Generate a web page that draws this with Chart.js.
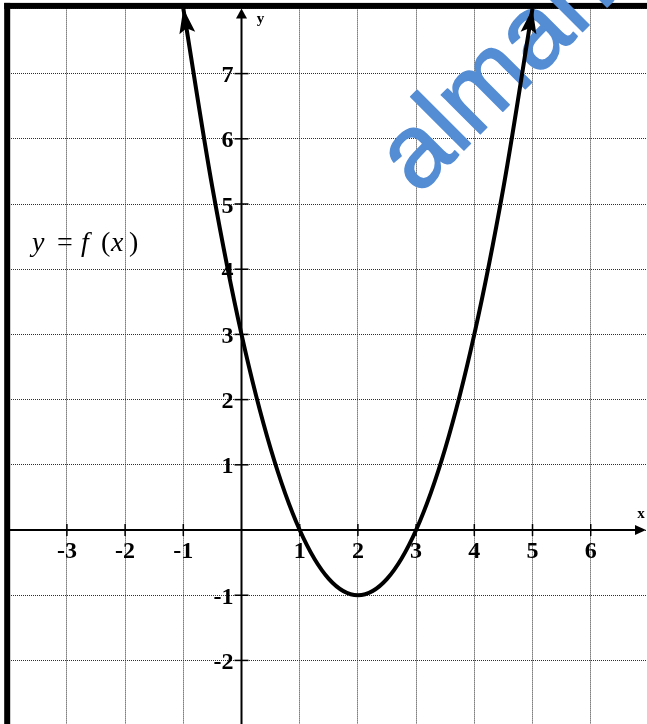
<!DOCTYPE html>
<html>
<head>
<meta charset="utf-8">
<script src="https://cdn.jsdelivr.net/npm/chart.js@4/dist/chart.umd.min.js"></script>
<style>
  html, body { margin: 0; padding: 0; background: #fff; }
  canvas { display: block; }
</style>
</head>
<body>
<canvas id="graph" width="647" height="724"></canvas>
<script>
// Points of the parabola y = f(x), vertex at (2, -1), roots at 1 and 3
const xValues = [-1, -0.5, 0, 0.5, 1, 1.5, 2, 2.5, 3, 3.5, 4, 4.5, 5];
const yValues = [8, 5.25, 3, 1.25, 0, -0.75, -1, -0.75, 0, 1.25, 3, 5.25, 8];

// Numbers written along the axes
const xTickValues = [-3, -2, -1, 1, 2, 3, 4, 5, 6];
const yTickValues = [7, 6, 5, 4, 3, 2, 1, -1, -2];

// Window of the coordinate plane
const xRange = [-4, 6.967];
const yRange = [-2.975, 8];

const curvePoints = xValues.map((x, i) => ({ x: x, y: yValues[i] }));

const serifBold = 'bold 24px "Liberation Serif", "Times New Roman", serif';

function drawArrow(ctx, tipX, tipY, dirX, dirY, len, half, notch) {
  const d = Math.hypot(dirX, dirY) || 1;
  const ux = dirX / d, uy = dirY / d;
  const px = -uy, py = ux;
  const bx = tipX - ux * len, by = tipY - uy * len;
  ctx.beginPath();
  ctx.moveTo(tipX, tipY);
  ctx.lineTo(bx + px * half, by + py * half);
  ctx.lineTo(tipX - ux * len * notch, tipY - uy * len * notch);
  ctx.lineTo(bx - px * half, by - py * half);
  ctx.closePath();
  ctx.fill();
}

const planePlugin = {
  id: 'plane',
  beforeDatasetsDraw(chart) {
    const { ctx, chartArea, scales } = chart;
    const xs = scales.x, ys = scales.y;
    const x0 = xs.getPixelForValue(0);
    const y0 = ys.getPixelForValue(0);
    ctx.save();

    // heavy frame on the left and top
    ctx.fillStyle = '#000';
    ctx.fillRect(chartArea.left - 4.5, chartArea.top - 5.5, chart.width, 6);
    ctx.fillRect(chartArea.left - 4.5, chartArea.top - 5.5, 6, chart.height);

    // axes
    ctx.strokeStyle = '#000';
    ctx.lineWidth = 2;
    ctx.beginPath();
    ctx.moveTo(chartArea.left, y0);
    ctx.lineTo(chart.width - 6, y0);
    ctx.moveTo(x0, chart.height);
    ctx.lineTo(x0, chartArea.top + 6);
    ctx.stroke();
    ctx.fillStyle = '#000';
    drawArrow(ctx, chart.width - 1, y0, 1, 0, 11, 5, 1);
    drawArrow(ctx, x0, chartArea.top, 0, -1, 10, 5.5, 1);

    // tick marks and numbers
    ctx.lineWidth = 1.5;
    ctx.font = serifBold;
    ctx.textBaseline = 'alphabetic';
    ctx.textAlign = 'center';
    xTickValues.forEach(v => {
      const px = xs.getPixelForValue(v);
      ctx.beginPath();
      ctx.moveTo(px, y0 - 6);
      ctx.lineTo(px, y0 + 6);
      ctx.stroke();
      ctx.fillText(String(v), px, y0 + 28);
    });
    ctx.textAlign = 'right';
    yTickValues.forEach(v => {
      const py = ys.getPixelForValue(v);
      ctx.beginPath();
      ctx.moveTo(x0 - 7, py);
      ctx.lineTo(x0 + 7, py);
      ctx.stroke();
      ctx.fillText(String(v), x0 - 8, py + 8.5);
    });

    // axis names
    ctx.font = 'bold 15px "Liberation Serif", "Times New Roman", serif';
    ctx.textAlign = 'center';
    ctx.fillText('y', x0 + 19, chartArea.top + 15);
    ctx.fillText('x', chart.width - 6, y0 - 12);

    // function name
    const base = 251;
    const it = 'italic 28px "Liberation Serif", "Times New Roman", serif';
    const up = '28px "Liberation Serif", "Times New Roman", serif';
    ctx.textAlign = 'left';
    ctx.font = it; ctx.fillText('y', 32, base);
    ctx.font = up; ctx.fillText('=', 57, base);
    ctx.font = it; ctx.fillText('f', 81, base);
    ctx.font = up; ctx.fillText('(', 101, base);
    ctx.font = it; ctx.fillText('x', 111, base);
    ctx.font = up; ctx.fillText(')', 129, base);

    // site mark
    ctx.translate(418, 196);
    ctx.rotate(-Math.PI / 4);
    ctx.font = '104px "Liberation Sans", Arial, sans-serif';
    ctx.fillStyle = '#548DD4';
    ctx.strokeStyle = '#548DD4';
    ctx.lineWidth = 1.5;
    ctx.lineJoin = 'round';
    ctx.textAlign = 'left';
    ctx.fillText('almanahj', 0, 0);
    ctx.strokeText('almanahj', 0, 0);

    ctx.restore();
  },
  afterDatasetsDraw(chart) {
    const { ctx } = chart;
    const pts = chart.getDatasetMeta(0).data;
    if (!pts.length) return;
    ctx.save();
    ctx.fillStyle = '#000';
    const first = pts[0], second = pts[1];
    const last = pts[pts.length - 1], prev = pts[pts.length - 2];
    const c1x = first.cp2x !== undefined ? first.cp2x : second.x;
    const c1y = first.cp2y !== undefined ? first.cp2y : second.y;
    const c2x = last.cp1x !== undefined ? last.cp1x : prev.x;
    const c2y = last.cp1y !== undefined ? last.cp1y : prev.y;
    drawArrow(ctx, first.x, first.y, first.x - c1x, first.y - c1y, 25, 8, 0.8);
    drawArrow(ctx, last.x, last.y, last.x - c2x, last.y - c2y, 25, 8, 0.8);
    ctx.restore();
  }
};

new Chart(document.getElementById('graph'), {
  type: 'scatter',
  data: {
    datasets: [{
      data: curvePoints,
      showLine: true,
      borderColor: '#000',
      borderWidth: 4,
      pointRadius: 0,
      cubicInterpolationMode: 'monotone',
      clip: false
    }]
  },
  options: {
    responsive: false,
    animation: false,
    layout: { padding: { left: 8.7, top: 8.4, right: 0, bottom: 0 } },
    plugins: { legend: { display: false }, tooltip: { enabled: false } },
    scales: {
      x: {
        type: 'linear',
        min: xRange[0],
        max: xRange[1],
        ticks: { display: false, stepSize: 1, includeBounds: false },
        grid: { color: '#2e2e2e', lineWidth: 1, drawTicks: false },
        border: { display: false, dash: [1, 1] }
      },
      y: {
        type: 'linear',
        min: yRange[0],
        max: yRange[1],
        ticks: { display: false, stepSize: 1, includeBounds: false },
        grid: { color: '#2e2e2e', lineWidth: 1, drawTicks: false },
        border: { display: false, dash: [1, 1] }
      }
    }
  },
  plugins: [planePlugin]
});
</script>
</body>
</html>
